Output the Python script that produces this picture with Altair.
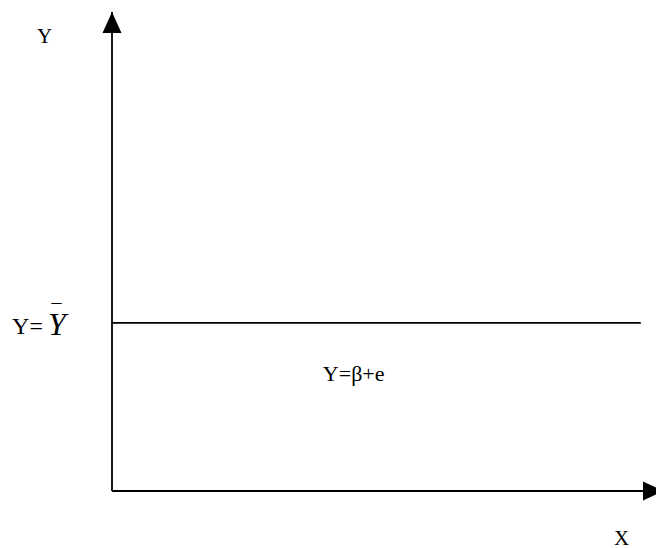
import altair as alt
import pandas as pd

# Diagram of a regression with no slope: Y = beta + e, fitted line at Y = mean(Y)
# Logical coordinates: origin at (0, 0), axis ends at 1.
seg_x = [0.0, 0.0, 0.0]
seg_y = [0.0, 0.0, 0.351]
seg_x2 = [1.0, 0.0, 0.958]
seg_y2 = [0.0, 1.0, 0.351]

arrow_x = [0.0, 1.0]
arrow_y = [1.0, 0.0]
arrow_shape = ["M0,0L-0.95,2.1L0.95,2.1Z", "M0,0L-2.1,-0.95L-2.1,0.95Z"]

label_text = ["Y", "X", "Y=", "Y", "Y=β+e"]
label_x = [-0.122, 0.923, -0.181, -0.116, 0.382]
label_y = [0.935, -0.113, 0.328, 0.326, 0.2296]
label_size = [21, 21, 24, 32, 22]
label_style = ["normal", "normal", "normal", "italic", "normal"]
label_align = ["center", "center", "left", "left", "left"]

# the bar over the italic Y (sample mean)
bar_text = ["¯"]
bar_x = [-0.1005]
bar_y = [0.359]

segments = pd.DataFrame({"x": seg_x, "y": seg_y, "x2": seg_x2, "y2": seg_y2})
arrows = pd.DataFrame({"x": arrow_x, "y": arrow_y, "shape": arrow_shape})
labels = pd.DataFrame({"text": label_text, "x": label_x, "y": label_y,
                       "size": label_size, "style": label_style, "align": label_align})
bars = pd.DataFrame({"text": bar_text, "x": bar_x, "y": bar_y})

xs = alt.Scale(domain=[0, 1], range=[112, 664], zero=False, nice=False)
ys = alt.Scale(domain=[0, 1], range=[491, 12], zero=False, nice=False)

X = alt.X("x:Q", scale=xs, axis=None)
Y = alt.Y("y:Q", scale=ys, axis=None)

lines = alt.Chart(segments).mark_rule(color="black", strokeWidth=1.8).encode(
    x=X, y=Y, x2="x2:Q", y2="y2:Q",
)

heads = alt.Chart(arrows).mark_point(filled=True, color="black", opacity=1, size=400).encode(
    x=X, y=Y,
    shape=alt.Shape("shape:N", scale=None, legend=None),
)


def text_layer(df, **kw):
    return alt.Chart(df).mark_text(font="Liberation Serif", color="black",
                                   baseline="alphabetic", **kw).encode(
        x=X, y=Y, text="text:N",
    )


layers = []
for i in range(len(labels)):
    row = labels.iloc[i]
    layers.append(text_layer(labels.iloc[[i]], fontSize=int(row["size"]),
                             fontStyle=row["style"], align=row["align"]))

bar = text_layer(bars, fontSize=20, align="center")

chart = alt.layer(lines, heads, *layers, bar).properties(
    width=656, height=548, padding=0, autosize=alt.AutoSizeParams(type="none"),
    background="white",
).configure_view(stroke=None)

chart.save("out.html", embed_options={"renderer": "svg", "actions": False})
